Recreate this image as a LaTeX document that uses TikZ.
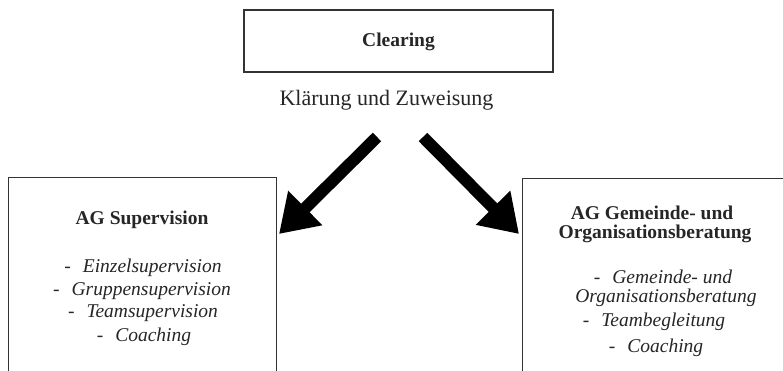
\documentclass[tikz,border=0pt]{standalone}
\usepackage{fontspec}
\setmainfont{Liberation Serif}
\usetikzlibrary{arrows.meta}
\begin{document}
\begin{tikzpicture}[x=1pt,y=-1pt,
  boxline/.style={draw=black!80,line width=1.3pt},
  txt/.style={inner sep=0pt,font=\fontsize{19.5}{22}\selectfont,text=black!85},
  ttl/.style={txt,font=\fontsize{19.5}{22}\selectfont\bfseries},
  itm/.style={txt,font=\fontsize{19.5}{22}\selectfont\itshape},
  bigarrow/.style={line width=12pt,-{Triangle[length=37pt,width=46pt]},black}]
\useasboundingbox (0,0) rectangle (783,371);
\clip (0,0) rectangle (783,371);
\fill[white] (0,0) rectangle (783,371);
% boxes
\node[boxline,minimum width=309pt,minimum height=62pt,inner sep=0pt] (clear) at (398.5,41) {};
\node[ttl] (cleart) at (398.5,42) {Clearing};
\node[txt,font=\fontsize{22}{26}\selectfont] (klar) at (386.5,100) {Klärung und Zuweisung};
\node[boxline,minimum width=268pt,minimum height=210pt,inner sep=0pt,anchor=north west] (left) at (8,177) {};
\node[boxline,minimum width=280pt,minimum height=210pt,inner sep=0pt,anchor=north west] (right) at (522,178) {};
% left text
\node[ttl] (lt) at (142,220) {AG Supervision};
\node[itm] (l1) at (143,268) {-\hspace{12pt}Einzelsupervision};
\node[itm] (l2) at (142,291) {-\hspace{12pt}Gruppensupervision};
\node[itm] (l3) at (143,313) {-\hspace{12pt}Teamsupervision};
\node[itm] (l4) at (144,337) {-\hspace{12pt}Coaching};
% right text
\node[ttl] (rt1) at (652,213) {AG Gemeinde- und};
\node[ttl] (rt2) at (655,234) {Organisationsberatung};
\node[itm] (r1) at (663,277) {-\hspace{12pt}Gemeinde- und};
\node[itm] (r2) at (666,298) {Organisationsberatung};
\node[itm] (r3) at (654,322) {-\hspace{12pt}Teambegleitung};
\node[itm] (r4) at (656,348) {-\hspace{12pt}Coaching};
% arrows
\coordinate (a1s) at (377,137);
\coordinate (a1e) at (279,234);
\coordinate (a2s) at (423,137);
\coordinate (a2e) at (519,234);
\draw[bigarrow] (a1s) -- (a1e);
\draw[bigarrow] (a2s) -- (a2e);
\end{tikzpicture}
\end{document}
